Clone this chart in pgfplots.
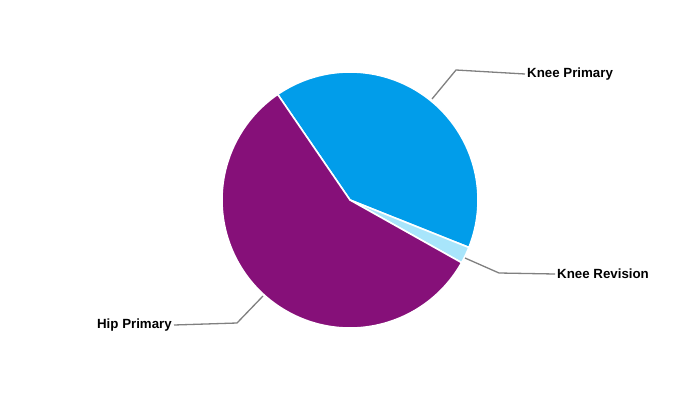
\documentclass[border=0pt]{standalone}
\usepackage{pgfplots}
\pgfplotsset{compat=1.18}
\usepackage{pgfplotstable}
\usepackage{fontspec}
\setmainfont{Liberation Sans}
\definecolor{kp}{HTML}{019DEA}
\definecolor{kr}{HTML}{A8E5FB}
\definecolor{hp}{HTML}{861079}
\definecolor{lead}{HTML}{808080}
\pgfplotstableread{
label value
KneePrimary 40.6
KneeRevision 2.1
HipPrimary 57.3
}\piedata
\begin{document}%
\begin{tikzpicture}
\pgfplotstablegetelem{0}{value}\of\piedata \global\let\va\pgfplotsretval
\pgfplotstablegetelem{1}{value}\of\piedata \global\let\vb\pgfplotsretval
\pgfplotstablegetelem{2}{value}\of\piedata \global\let\vc\pgfplotsretval
\pgfmathsetmacro\aA{124.4}
\pgfmathsetmacro\aB{\aA-3.6*\va}
\pgfmathsetmacro\aC{\aB-3.6*\vb}
\pgfmathsetmacro\aD{\aC-3.6*\vc}
\begin{axis}[name=ax,width=700pt,height=400pt,scale only axis,
  xmin=0,xmax=700,ymin=0,ymax=400,hide axis,clip=false]
\fill[white] (axis cs:0,0) rectangle (axis cs:700,400);
\filldraw[fill=kp,draw=white,line width=1.6pt,line join=round] (axis cs:350,200) -- +(\aA:128) arc[start angle=\aA,end angle=\aB,radius=128] -- cycle;
\filldraw[fill=kr,draw=white,line width=1.6pt,line join=round] (axis cs:350,200) -- +(\aB:128) arc[start angle=\aB,end angle=\aC,radius=128] -- cycle;
\filldraw[fill=hp,draw=white,line width=1.6pt,line join=round] (axis cs:350,200) -- +(\aC:128) arc[start angle=\aC,end angle=\aD,radius=128] -- cycle;
\addplot[lead,line width=1.3pt,mark=none] coordinates {(432,301) (456,330) (525,326)};
\addplot[lead,line width=1.3pt,mark=none] coordinates {(465,142) (499,127) (555,126)};
\addplot[lead,line width=1.3pt,mark=none] coordinates {(263,104) (237,77) (174,75)};
\node[anchor=west,font=\fontsize{13.3}{15}\selectfont\bfseries,inner sep=1pt] at (axis cs:526,326) {Knee Primary};
\node[anchor=west,font=\fontsize{13.3}{15}\selectfont\bfseries,inner sep=1pt] at (axis cs:556,126) {Knee Revision};
\node[anchor=east,font=\fontsize{13.3}{15}\selectfont\bfseries,inner sep=1pt] at (axis cs:173,75) {Hip Primary};
\end{axis}
\pgfresetboundingbox
\path (ax.south west) rectangle (ax.north east);
\end{tikzpicture}%
\end{document}
